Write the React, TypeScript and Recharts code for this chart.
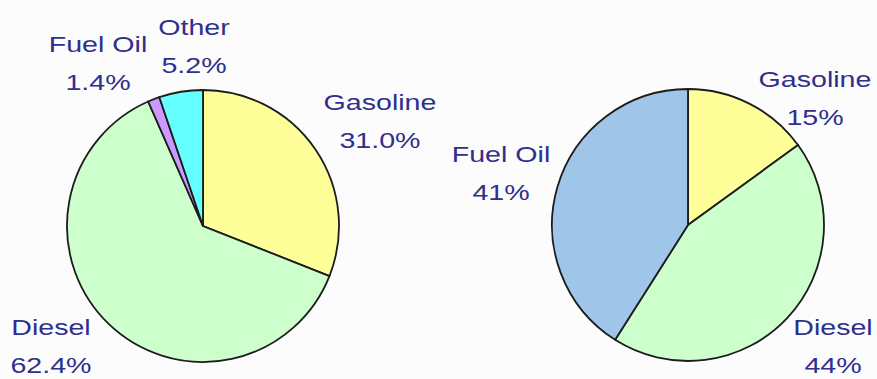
import React from "react";
import { PieChart, Pie, Cell } from "recharts";

// left pie: share by fuel type (percent)
const leftFuels = ["Gasoline", "Diesel", "Fuel Oil", "Other"];
const leftShares = [31.0, 62.4, 1.4, 5.2];
const leftColors = ["#ffff99", "#ccffcc", "#cc99ff", "#66ffff"];

// right pie
const rightFuels = ["Gasoline", "Diesel", "Fuel Oil"];
const rightShares = [15, 44, 41];
const rightColors = ["#ffff99", "#ccffcc", "#9fc5e8"];

// label anchor offsets from each pie centre (first-line baseline)
const leftLabelPos: Record<string, [number, number]> = {
  Gasoline: [177, -116],
  Diesel: [-152, 109],
  "Fuel Oil": [-105, -174],
  Other: [-9, -191],
};
const rightLabelPos: Record<string, [number, number]> = {
  Gasoline: [127, -138],
  Diesel: [145, 110],
  "Fuel Oil": [-187, -63],
};

const TEXT = "#2f2f8c";
const EDGE = "#1c1c1c";

const makeLabel =
  (pos: Record<string, [number, number]>, digits: number) => (props: any) => {
    const { cx, cy, name, value } = props;
    const [dx, dy] = pos[name] ?? [0, 0];
    return (
      <g transform={`translate(${cx + dx},${cy + dy}) scale(1.3,1)`}>
        <text
          textAnchor="middle"
          fontFamily="'Liberation Sans', Arial, sans-serif"
          fontSize={22}
          fill={TEXT}
        >
          <tspan x={0} y={0}>
            {name}
          </tspan>
          <tspan x={0} y={38}>
            {`${Number(value).toFixed(digits)}%`}
          </tspan>
        </text>
      </g>
    );
  };

export default function App() {
  const leftData = leftFuels.map((name, i) => ({ name, value: leftShares[i] }));
  const rightData = rightFuels.map((name, i) => ({ name, value: rightShares[i] }));

  return (
    <div style={{ width: 877, height: 379, background: "#fcfcfc" }}>
      <style>{`body{margin:0}`}</style>
      <PieChart width={877} height={379} margin={{ top: 0, right: 0, bottom: 0, left: 0 }}>
        <Pie
          data={leftData}
          dataKey="value"
          nameKey="name"
          cx={203}
          cy={226}
          outerRadius={136}
          startAngle={90}
          endAngle={-270}
          stroke={EDGE}
          strokeWidth={1.8}
          labelLine={false}
          label={makeLabel(leftLabelPos, 1)}
          isAnimationActive={false}
        >
          {leftData.map((d, i) => (
            <Cell key={d.name} fill={leftColors[i]} />
          ))}
        </Pie>
        <Pie
          data={rightData}
          dataKey="value"
          nameKey="name"
          cx={688}
          cy={225}
          outerRadius={136}
          startAngle={90}
          endAngle={-270}
          stroke={EDGE}
          strokeWidth={1.8}
          labelLine={false}
          label={makeLabel(rightLabelPos, 0)}
          isAnimationActive={false}
        >
          {rightData.map((d, i) => (
            <Cell key={d.name} fill={rightColors[i]} />
          ))}
        </Pie>
      </PieChart>
    </div>
  );
}
